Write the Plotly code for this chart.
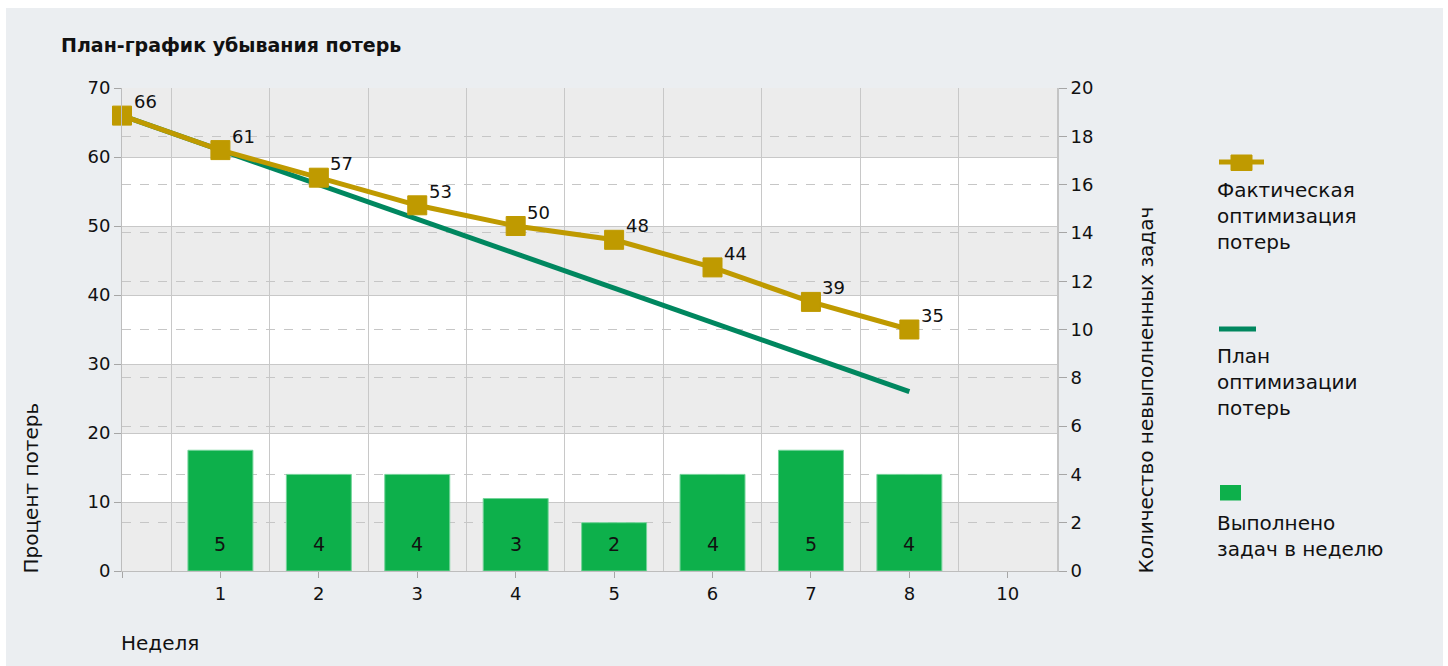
import plotly.graph_objects as go

# ---------------- data ----------------
weeks = [0, 1, 2, 3, 4, 5, 6, 7, 8]
actual = [66, 61, 57, 53, 50, 48, 44, 39, 35]
plan = [66, 61, 56, 51, 46, 41, 36, 31, 26]
bar_weeks = [1, 2, 3, 4, 5, 6, 7, 8]
done_tasks = [5, 4, 4, 3, 2, 4, 5, 4]
x_tickvals = [0, 1, 2, 3, 4, 5, 6, 7, 8, 9]
x_ticktext = ["", "1", "2", "3", "4", "5", "6", "7", "8", "10"]
left_ticks = [0, 10, 20, 30, 40, 50, 60, 70]
right_ticks = [0, 2, 4, 6, 8, 10, 12, 14, 16, 18, 20]

title = "План-график убывания потерь"
y_title = "Процент потерь"
y2_title = "Количество невыполненных задач"
x_title = "Неделя"
legend_names = ["Фактическая<br>оптимизация<br>потерь",
                "План<br>оптимизации<br>потерь",
                "Выполнено<br>задач в неделю"]

# ---------------- style ----------------
W, H = 1448, 666
L, R, T, B = 122, 1057, 88, 571
FONT = "DejaVu Sans"
TXT = "#111111"
GOLD = "#bf9a00"
PLAN_GREEN = "#00875f"
BAR_GREEN = "#0db04b"
PANEL = "#ebeef1"
BAND = "#ececec"
GRID = "#c8c8c8"


def px(x):
    return (x - L) / (R - L)


def py(y):
    return (B - y) / (B - T)


fig = go.Figure()

fig.add_trace(go.Bar(
    x=bar_weeks, y=done_tasks, yaxis="y2", width=0.66,
    marker=dict(color=BAR_GREEN, line=dict(color="#74d49a", width=1)),
    showlegend=False, hoverinfo="skip",
))

fig.add_trace(go.Scatter(
    x=weeks, y=plan, mode="lines",
    line=dict(color=PLAN_GREEN, width=5), showlegend=False, cliponaxis=False,
))

fig.add_trace(go.Scatter(
    x=weeks, y=actual, mode="lines+markers",
    line=dict(color=GOLD, width=5),
    marker=dict(symbol="square", size=19, color=GOLD, line=dict(color=GOLD, width=1)),
    showlegend=False, cliponaxis=False,
))

shapes = []
# white outer strips (page is white, panel is light grey)
shapes.append(dict(type="rect", xref="paper", yref="paper", x0=px(0), x1=px(W), y0=py(0), y1=py(8),
                   fillcolor="white", line=dict(width=0), layer="below"))
shapes.append(dict(type="rect", xref="paper", yref="paper", x0=px(0), x1=px(6), y0=py(H), y1=py(0),
                   fillcolor="white", line=dict(width=0), layer="below"))
shapes.append(dict(type="rect", xref="paper", yref="paper", x0=px(1443), x1=px(W), y0=py(H), y1=py(0),
                   fillcolor="white", line=dict(width=0), layer="below"))
# alternating horizontal bands
for i in range(0, len(left_ticks) - 1, 2):
    shapes.append(dict(type="rect", xref="x domain", yref="y", x0=0, x1=1,
                       y0=left_ticks[i], y1=left_ticks[i + 1],
                       fillcolor=BAND, line=dict(width=0), layer="below"))

# legend symbols
shapes.append(dict(type="line", xref="paper", yref="paper", x0=px(1219), x1=px(1264), y0=py(162), y1=py(162),
                   line=dict(color=GOLD, width=5)))
shapes.append(dict(type="rect", xref="paper", yref="paper", x0=px(1231), x1=px(1252), y0=py(155), y1=py(170.5),
                   fillcolor=GOLD, line=dict(color=GOLD, width=1)))
shapes.append(dict(type="line", xref="paper", yref="paper", x0=px(1219), x1=px(1256), y0=py(329), y1=py(329),
                   line=dict(color=PLAN_GREEN, width=5)))
shapes.append(dict(type="rect", xref="paper", yref="paper", x0=px(1220), x1=px(1241), y0=py(485), y1=py(500.5),
                   fillcolor=BAR_GREEN, line=dict(width=0)))

annotations = []
# data labels for the actual line
for xv, yv in zip(weeks, actual):
    annotations.append(dict(text=str(yv), x=xv, y=yv, xref="x", yref="y",
                            xanchor="center", yanchor="middle", xshift=23, yshift=14,
                            showarrow=False, font=dict(family=FONT, size=18, color=TXT)))
# data labels inside bars, near the base
for xv, yv in zip(bar_weeks, done_tasks):
    annotations.append(dict(text=str(yv), x=xv, y=0, xref="x", yref="y2",
                            xanchor="center", yanchor="bottom", yshift=14,
                            showarrow=False, font=dict(family=FONT, size=19, color=TXT)))

annotations.append(dict(text="<b>" + title + "</b>", xref="paper", yref="paper", x=px(59), y=py(45),
                        xanchor="left", yanchor="middle", showarrow=False,
                        font=dict(family=FONT, size=19, color=TXT)))
annotations.append(dict(text=y_title, xref="paper", yref="paper", x=px(30), y=py(576),
                        xanchor="center", yanchor="bottom", textangle=-90, showarrow=False,
                        font=dict(family=FONT, size=20, color=TXT)))
annotations.append(dict(text=y2_title, xref="paper", yref="paper", x=px(1145), y=py(576),
                        xanchor="center", yanchor="bottom", textangle=-90, showarrow=False,
                        font=dict(family=FONT, size=20, color=TXT)))
annotations.append(dict(text=x_title, xref="paper", yref="paper", x=px(119), y=py(643),
                        xanchor="left", yanchor="middle", showarrow=False,
                        font=dict(family=FONT, size=20, color=TXT)))
for name, top in zip(legend_names, [176, 342, 509]):
    annotations.append(dict(text=name, xref="paper", yref="paper", x=px(1215), y=py(top),
                            xanchor="left", yanchor="top", align="left", showarrow=False,
                            font=dict(family=FONT, size=20, color=TXT)))

tickfont = dict(family=FONT, size=18, color=TXT)
fig.update_layout(
    width=W, height=H,
    margin=dict(l=L, r=W - R, t=T, b=H - B, pad=0),
    paper_bgcolor=PANEL, plot_bgcolor="white",
    font=dict(family=FONT, size=18, color=TXT),
    showlegend=False,
    shapes=shapes, annotations=annotations,
    xaxis=dict(range=[0, 9.5], tickvals=x_tickvals, ticktext=x_ticktext,
               ticks="outside", ticklen=6, tickcolor="#a6a6a6",
               showline=True, linecolor="#bdbdbd", linewidth=1,
               showgrid=False, zeroline=False,
               minor=dict(tickvals=[0.5, 1.5, 2.5, 3.5, 4.5, 5.5, 6.5, 7.5, 8.5],
                          showgrid=True, gridcolor=GRID, gridwidth=1, ticks=""),
               tickfont=tickfont),
    yaxis=dict(range=[0, 70], tickvals=left_ticks, ticks="outside", ticklen=7,
               tickcolor="#a6a6a6", showline=True, linecolor="#bdbdbd",
               showgrid=True, gridcolor=GRID, gridwidth=1, zeroline=False,
               tickfont=tickfont),
    yaxis2=dict(range=[0, 20], tickvals=right_ticks, overlaying="y", side="right",
                ticks="outside", ticklen=8, tickcolor="#a6a6a6",
                showline=True, linecolor="#c4c4c4", linewidth=2,
                showgrid=True, gridcolor="#c6c6c6", griddash="dash", gridwidth=1,
                zeroline=False, tickfont=tickfont),
)

fig.write_html("out.html")
